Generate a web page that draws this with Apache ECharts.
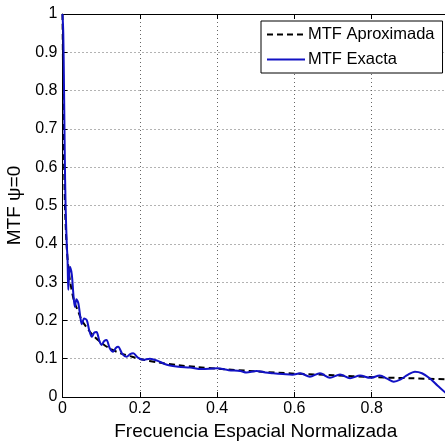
<!DOCTYPE html>
<html>
<head>
<meta charset="utf-8">
<script src="https://cdn.jsdelivr.net/npm/echarts@6/dist/echarts.min.js"></script>
<style>html,body{margin:0;padding:0;background:#fff;}#c{width:445px;height:443px;}</style>
</head>
<body>
<div id="c"></div>
<script>
const xTicks = [0, 0.2, 0.4, 0.6, 0.8, 1];
const yTicks = [0, 0.1, 0.2, 0.3, 0.4, 0.5, 0.6, 0.7, 0.8, 0.9, 1];

const xApprox = [0, 0.002, 0.004, 0.007, 0.011, 0.015, 0.02, 0.03, 0.04, 0.05, 0.065, 0.08, 0.1, 0.12, 0.15, 0.18, 0.2, 0.25, 0.3, 0.35, 0.4, 0.5, 0.6, 0.7, 0.8, 0.9, 1.0];
const yApprox = [1.0, 0.80, 0.62, 0.48, 0.39, 0.34, 0.30, 0.25, 0.225, 0.20, 0.178, 0.16, 0.142, 0.128, 0.114, 0.105, 0.099, 0.09, 0.083, 0.078, 0.074, 0.067, 0.061, 0.057, 0.052, 0.049, 0.046];

const xExact = [0, 0.002, 0.004, 0.006, 0.008, 0.011, 0.013, 0.015, 0.019, 0.024, 0.028, 0.032, 0.036, 0.041, 0.046, 0.050, 0.056, 0.063, 0.069, 0.076, 0.082, 0.088, 0.095, 0.101, 0.108, 0.114, 0.122, 0.131, 0.138, 0.144, 0.155, 0.166, 0.175, 0.183, 0.196, 0.209, 0.226, 0.245, 0.27, 0.30, 0.33, 0.36, 0.40, 0.43, 0.46, 0.476, 0.502, 0.525, 0.545, 0.57, 0.595, 0.615, 0.64, 0.666, 0.692, 0.718, 0.744, 0.77, 0.796, 0.821, 0.840, 0.857, 0.875, 0.893, 0.912, 0.93, 0.95, 0.97, 0.99, 1.0];
const yExact = [1.0, 0.95, 0.80, 0.62, 0.50, 0.40, 0.36, 0.28, 0.34, 0.32, 0.27, 0.235, 0.255, 0.245, 0.21, 0.19, 0.205, 0.20, 0.175, 0.157, 0.168, 0.17, 0.148, 0.136, 0.146, 0.149, 0.128, 0.118, 0.128, 0.131, 0.112, 0.105, 0.112, 0.114, 0.102, 0.097, 0.10, 0.095, 0.084, 0.079, 0.077, 0.073, 0.075, 0.070, 0.068, 0.064, 0.068, 0.064, 0.062, 0.060, 0.058, 0.062, 0.053, 0.062, 0.050, 0.059, 0.049, 0.056, 0.050, 0.056, 0.048, 0.040, 0.046, 0.058, 0.066, 0.062, 0.049, 0.030, 0.012, 0.0];

const approxData = xApprox.map((x, i) => [x, yApprox[i]]);
const exactData = xExact.map((x, i) => [x, yExact[i]]);

const FONT = 'Liberation Sans, Arial, sans-serif';
const chart = echarts.init(document.getElementById('c'), null, {renderer: 'canvas'});
chart.setOption({
  animation: false,
  backgroundColor: '#fff',
  grid: {left: 62.5, width: 386.5, top: 14, height: 383, containLabel: false, outerBoundsMode: 'none'},
  legend: {
    left: 261, top: 21, orient: 'vertical',
    backgroundColor: '#fff', borderColor: '#000', borderWidth: 1,
    padding: [5, 8, 5, 5], itemGap: 8, itemWidth: 38, itemHeight: 14,
    itemStyle: {opacity: 0},
    textStyle: {fontFamily: FONT, fontSize: 16.5, color: '#000', padding: [0, 0, 0, -2]},
    data: ['MTF Aproximada', 'MTF Exacta']
  },
  xAxis: [{
    type: 'value', min: 0, max: 1, interval: 0.2, position: 'bottom',
    name: 'Frecuencia Espacial Normalizada', nameLocation: 'middle', nameGap: 24,
    nameTextStyle: {fontFamily: FONT, fontSize: 19, color: '#000'},
    axisLine: {show: true, onZero: false, lineStyle: {color: '#000', width: 1}},
    axisTick: {show: true, inside: true, length: 5, lineStyle: {color: '#000'}},
    axisLabel: {fontFamily: FONT, fontSize: 16, color: '#000', margin: 4,
      formatter: v => (v >= 1 ? '' : String(+v.toFixed(1)))},
    splitLine: {show: true, lineStyle: {type: [1, 3], color: '#666', width: 1}}
  }, {
    type: 'value', min: 0, max: 1, interval: 0.2, position: 'top',
    axisLine: {show: true, onZero: false, lineStyle: {color: '#000', width: 1}},
    axisTick: {show: true, inside: true, length: 5, lineStyle: {color: '#000'}},
    axisLabel: {show: false}, splitLine: {show: false}
  }],
  yAxis: [{
    type: 'value', min: 0, max: 1, interval: 0.1, position: 'left',
    name: 'MTF ψ=0', nameLocation: 'middle', nameGap: 36, nameRotate: 90,
    nameTextStyle: {fontFamily: FONT, fontSize: 19, color: '#000'},
    axisLine: {show: true, onZero: false, lineStyle: {color: '#000', width: 1}},
    axisTick: {show: true, inside: true, length: 5, lineStyle: {color: '#000'}},
    axisLabel: {fontFamily: FONT, fontSize: 16, color: '#000', margin: 5,
      formatter: v => String(+v.toFixed(1))},
    splitLine: {show: true, lineStyle: {type: [1, 3], color: '#666', width: 1}}
  }],
  series: [{
    name: 'MTF Aproximada', type: 'line', data: approxData, showSymbol: false, symbol: 'none',
    smooth: 0.3, lineStyle: {color: '#000', width: 2, type: [6, 4]}, itemStyle: {color: '#000'}, z: 2
  }, {
    name: 'MTF Exacta', type: 'line', data: exactData, showSymbol: false, symbol: 'none',
    smooth: 0.3, lineStyle: {color: '#1212c4', width: 2}, itemStyle: {color: '#1212c4'}, z: 3
  }]
});
</script>
</body>
</html>
